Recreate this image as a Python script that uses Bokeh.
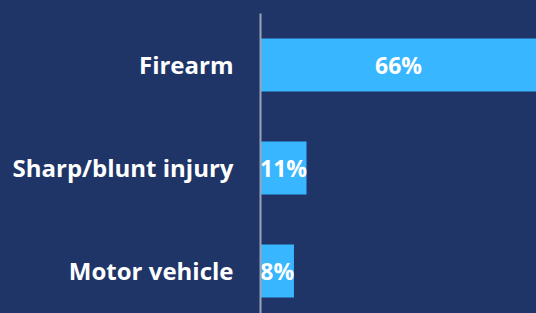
from bokeh.plotting import figure
from bokeh.models import Range1d, FixedTicker, ColumnDataSource
from bokeh.core.properties import value
from bokeh.embed import file_html
from bokeh.resources import INLINE

categories = ["Firearm", "Sharp/blunt injury", "Motor vehicle"]
values = [66, 11, 8]
labels = ["66%", "11%", "8%"]

BG = "#1f3568"
BAR = "#38b6ff"

pos = list(range(len(categories)))
src = ColumnDataSource(dict(y=pos, v=values, half=[v / 2 for v in values], lab=labels))

p = figure(width=536, height=313, output_backend="svg", toolbar_location=None,
           x_range=Range1d(0, 66), y_range=Range1d(2.413, -0.5),
           min_border_left=260, min_border_top=13, min_border_bottom=0, min_border_right=0)
p.background_fill_color = BG
p.border_fill_color = BG
p.outline_line_color = None
p.grid.visible = False
p.xaxis.visible = False

p.hbar(y="y", left=0, right="v", height=0.515, source=src, fill_color=BAR, line_color=None)
p.text(x="half", y="y", text="lab", source=src, text_align="center", text_baseline="middle",
       text_color="white", text_font=value("Open Sans"), text_font_style="bold",
       text_font_size="23px")

ya = p.yaxis[0]
ya.ticker = FixedTicker(ticks=pos)
ya.major_label_overrides = {i: c for i, c in zip(pos, categories)}
ya.major_label_text_font = "Open Sans"
ya.major_label_text_font_style = "bold"
ya.major_label_text_font_size = "24px"
ya.major_label_text_color = "white"
ya.major_label_standoff = 21
ya.major_tick_line_color = None
ya.minor_tick_line_color = None
ya.axis_line_color = "#9aa3b8"
ya.axis_line_width = 2

html = file_html(p, INLINE)
html = html.replace("</head>", f"<style>html, body {{ background: {BG}; }}</style></head>", 1)
open("out.html", "w").write(html)
